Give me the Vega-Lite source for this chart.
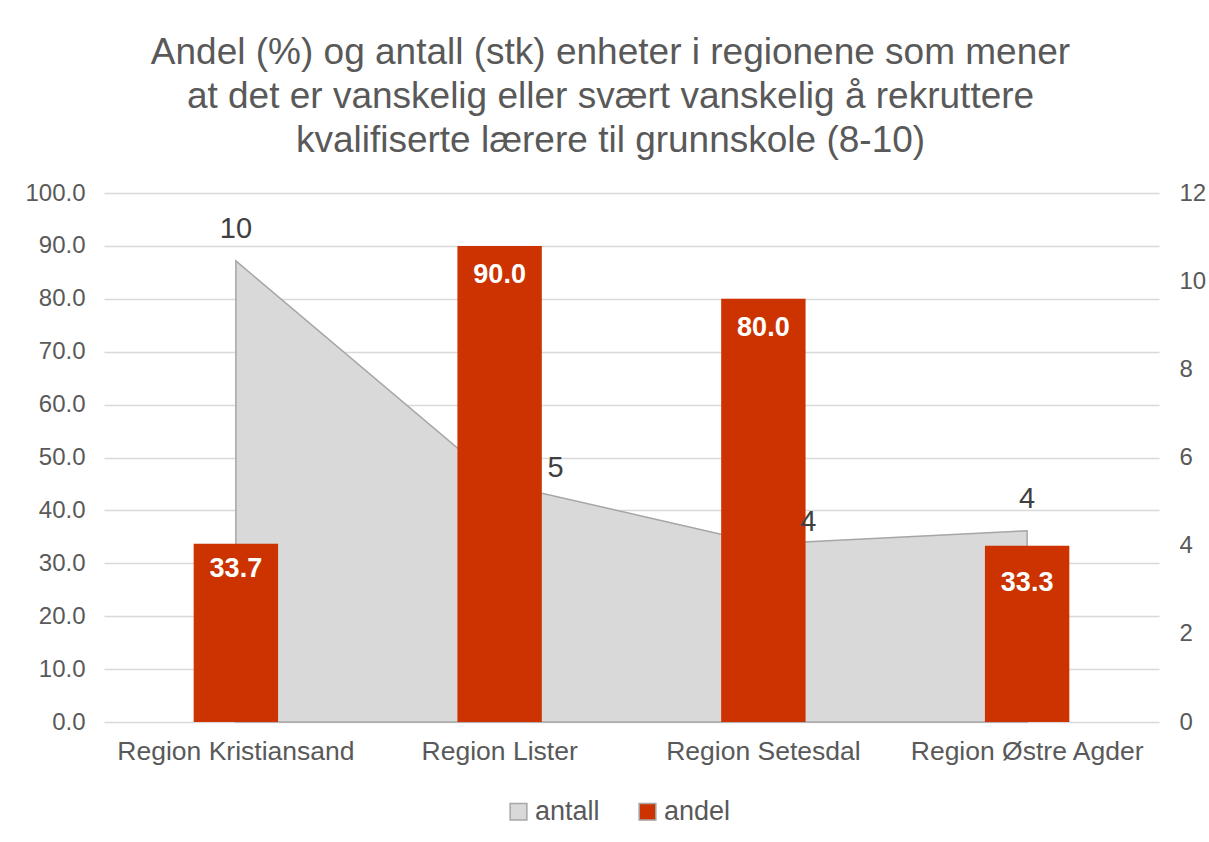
{
  "$schema": "https://vega.github.io/schema/vega-lite/v6.json",
  "autosize": {"type": "none"},
  "width": 1055,
  "height": 529,
  "padding": {"left": 104, "top": 193, "right": 50, "bottom": 120},
  "background": "white",
  "config": {
    "font": "Liberation Sans",
    "view": {"stroke": null}
  },
  "title": {
    "text": ["Andel (%) og antall (stk) enheter i regionene som mener", "at det er vanskelig eller svært vanskelig å rekruttere", "kvalifiserte lærere til grunnskole (8-10)"],
    "fontSize": 37,
    "fontWeight": "normal",
    "color": "#595959",
    "lineHeight": 44,
    "anchor": "middle",
    "dx": -21,
    "offset": 21
  },
  "data": {
    "values": [
      {"region": "Region Kristiansand", "andel": 33.7, "antall": 10.46},
      {"region": "Region Lister", "andel": 90.0, "antall": 5.41},
      {"region": "Region Setesdal", "andel": 80.0, "antall": 4.04},
      {"region": "Region Østre Agder", "andel": 33.3, "antall": 4.34}
    ]
  },
  "encoding": {
    "x": {
      "field": "region",
      "type": "nominal",
      "sort": null,
      "bandPosition": 0.5,
      "scale": {"paddingInner": 0.68, "paddingOuter": 0.34},
      "axis": {
        "title": null,
        "labelAngle": 0,
        "labelFontSize": 26.5,
        "labelLimit": 500,
        "labelColor": "#595959",
        "labelPadding": 16,
        "ticks": false,
        "domain": false,
        "grid": false
      }
    }
  },
  "layer": [
    {
      "mark": {"type": "area", "stroke": "#A6A6A6", "strokeWidth": 1.5, "fill": "#D9D9D9"},
      "encoding": {
        "y": {
          "field": "antall",
          "type": "quantitative",
          "scale": {"domain": [0, 12]},
          "axis": {
            "orient": "right",
            "title": null,
            "values": [0, 2, 4, 6, 8, 10, 12],
            "format": "d",
            "labelFontSize": 24,
            "labelColor": "#595959",
            "labelPadding": 20,
            "ticks": false,
            "domain": false,
            "grid": false
          }
        },
        "color": {
          "datum": "antall",
          "type": "nominal",
          "scale": {"domain": ["antall", "andel"], "range": ["#D9D9D9", "#CC3300"]},
          "legend": {
            "title": null,
            "orient": "none",
            "direction": "horizontal",
            "legendX": 401,
            "legendY": 605,
            "symbolType": "square",
            "symbolSize": 280,
            "symbolStrokeWidth": 1.5,
            "labelFontSize": 27,
            "labelColor": "#595959",
            "labelOffset": 3,
            "columnPadding": 34,
            "labelLimit": 300,
            "encode": {
              "symbols": {
                "update": {
                  "stroke": {"signal": "datum.value === 'antall' ? '#A6A6A6' : '#CC3300'"}
                }
              }
            }
          }
        }
      }
    },
    {
      "layer": [
        {
          "mark": {"type": "bar"},
          "encoding": {
            "y": {
              "field": "andel",
              "type": "quantitative",
              "scale": {"domain": [0, 100]},
              "axis": {
                "orient": "left",
                "title": null,
                "values": [0, 10, 20, 30, 40, 50, 60, 70, 80, 90, 100],
                "format": ".1f",
                "labelFontSize": 24,
                "labelColor": "#595959",
                "labelPadding": 19,
                "ticks": false,
                "domain": false,
                "grid": true,
                "gridColor": "#D9D9D9",
                "gridWidth": 1.5,
                "zindex": 0
              }
            },
            "color": {"datum": "andel", "type": "nominal"}
          }
        },
        {
          "transform": [{"filter": "datum.region === 'Region Kristiansand'"}],
          "mark": {"type": "text", "fontSize": 27, "fontWeight": "bold", "color": "white", "dy": 25, "baseline": "middle"},
          "encoding": {
            "y": {"field": "andel", "type": "quantitative"},
            "text": {"field": "andel", "type": "quantitative", "format": ".1f"}
          }
        },
        {
          "transform": [{"filter": "datum.region === 'Region Lister' || datum.region === 'Region Setesdal'"}],
          "mark": {"type": "text", "fontSize": 27, "fontWeight": "bold", "color": "white", "dy": 29.5, "baseline": "middle"},
          "encoding": {
            "y": {"field": "andel", "type": "quantitative"},
            "text": {"field": "andel", "type": "quantitative", "format": ".1f"}
          }
        },
        {
          "transform": [{"filter": "datum.region === 'Region Østre Agder'"}],
          "mark": {"type": "text", "fontSize": 27, "fontWeight": "bold", "color": "white", "dy": 37, "baseline": "middle"},
          "encoding": {
            "y": {"field": "andel", "type": "quantitative"},
            "text": {"field": "andel", "type": "quantitative", "format": ".1f"}
          }
        }
      ]
    },
    {
      "layer": [
        {
          "transform": [{"filter": "datum.region === 'Region Kristiansand' || datum.region === 'Region Østre Agder'"}],
          "mark": {"type": "text", "fontSize": 29, "color": "#404040", "dy": -32, "baseline": "middle"},
          "encoding": {
            "y": {"field": "antall", "type": "quantitative", "scale": {"domain": [0, 12]}, "axis": null},
            "text": {"field": "antall", "type": "quantitative", "format": ".0f"}
          }
        },
        {
          "transform": [{"filter": "datum.region === 'Region Lister'"}],
          "mark": {"type": "text", "fontSize": 29, "color": "#404040", "dx": 56, "dy": -16, "baseline": "middle"},
          "encoding": {
            "y": {"field": "antall", "type": "quantitative"},
            "text": {"field": "antall", "type": "quantitative", "format": ".0f"}
          }
        },
        {
          "transform": [{"filter": "datum.region === 'Region Setesdal'"}],
          "mark": {"type": "text", "fontSize": 29, "color": "#404040", "dx": 45, "dy": -22, "baseline": "middle"},
          "encoding": {
            "y": {"field": "antall", "type": "quantitative"},
            "text": {"field": "antall", "type": "quantitative", "format": ".0f"}
          }
        }
      ]
    }
  ],
  "resolve": {"scale": {"y": "independent"}}
}
